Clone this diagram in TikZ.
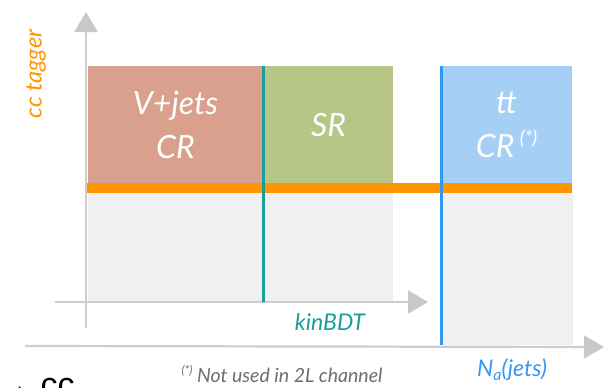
\documentclass[tikz,border=0pt]{standalone}
\usepackage{fontspec}
\setmainfont{Lato}
\newfontfamily\arialf{Liberation Sans}
\usetikzlibrary{arrows.meta}
\definecolor{vjets}{RGB}{217,161,141}
\definecolor{srcol}{RGB}{183,198,135}
\definecolor{ttcol}{RGB}{165,207,245}
\definecolor{orangebar}{RGB}{255,149,0}
\definecolor{bggray}{RGB}{240,240,240}
\definecolor{axisgray}{RGB}{205,205,205}
\definecolor{headgray}{RGB}{200,200,200}
\definecolor{tealc}{RGB}{26,158,152}
\definecolor{bluec}{RGB}{50,152,240}
\definecolor{notegray}{RGB}{110,110,110}
\tikzset{
  region/.style={anchor=north west, inner sep=0pt, outer sep=0pt, text=white,
     font=\fontsize{32}{44}\selectfont\itshape, align=center},
  bgbox/.style={anchor=north west, inner sep=0pt, outer sep=0pt, fill=bggray},
  axisline/.style={draw=axisgray, line width=2.2pt,
     -{Triangle[width=23pt,length=20pt,fill=headgray,color=headgray]}},
  label/.style={inner sep=0pt, font=\itshape},
}
\begin{document}
\begin{tikzpicture}[x=1pt,y=-1pt]
\useasboundingbox (0,0) rectangle (611,388);
% gray backgrounds
\node[bgbox, minimum width=305pt, minimum height=109pt] (bgL) at (88,193) {};
\node[bgbox, minimum width=132pt, minimum height=152pt] (bgR) at (441,193) {};
% axes
\coordinate (ya0) at (86,328);
\coordinate (ya1) at (86,12);
\coordinate (xi0) at (55,302);
\coordinate (xi1) at (428,302);
\coordinate (xo0) at (25,346);
\coordinate (xo1) at (604,347);
\draw[axisline] (ya0) -- (ya1);
\draw[axisline] (xi0) -- (xi1);
\draw[axisline] (xo0) -- (xo1);
% regions
\node[region, fill=vjets, minimum width=175pt, minimum height=118pt] (vj) at (88,66) {V+jets\\CR};
\node[region, fill=srcol, minimum width=129pt, minimum height=118pt] (sr) at (264,66) {SR};
\node[region, fill=ttcol, minimum width=131pt, minimum height=118pt] (tt) at (441,66) {tt\\CR\,\raisebox{0.4em}{\fontsize{19}{19}\selectfont(*)}};
% orange cut
\node[anchor=north west, inner sep=0pt, fill=orangebar, minimum width=485pt, minimum height=10pt] (cut) at (87,183) {};
% boundary lines
\coordinate (t0) at (263,66);
\coordinate (t1) at (263,302);
\coordinate (b0) at (441,66);
\coordinate (b1) at (441,345);
\draw[tealc, line width=3pt] (t0) -- (t1);
\draw[bluec, line width=3pt] (b0) -- (b1);
% labels
\node[label, text=orangebar, rotate=90, font=\fontsize{23.5}{23.5}\selectfont\itshape] (ylab) at (36,74) {cc tagger};
\node[label, text=tealc, font=\fontsize{23}{23}\selectfont\itshape] (kin) at (330,322) {kinBDT};
\node[label, text=notegray, font=\fontsize{19.5}{19.5}\selectfont\itshape] (note) at (282,374) {\raisebox{0.4em}{\fontsize{12}{12}\selectfont(*)} Not used in 2L channel};
\node[label, text=bluec, font=\fontsize{23}{23}\selectfont\itshape] (nj) at (512,370) {N\raisebox{-0.15em}{\fontsize{16}{16}\selectfont a}(jets)};
\node[anchor=base west, inner sep=0pt, font=\arialf\fontsize{34}{34}\selectfont] (cc) at (-3,396) {→ cc};
\end{tikzpicture}
\end{document}
